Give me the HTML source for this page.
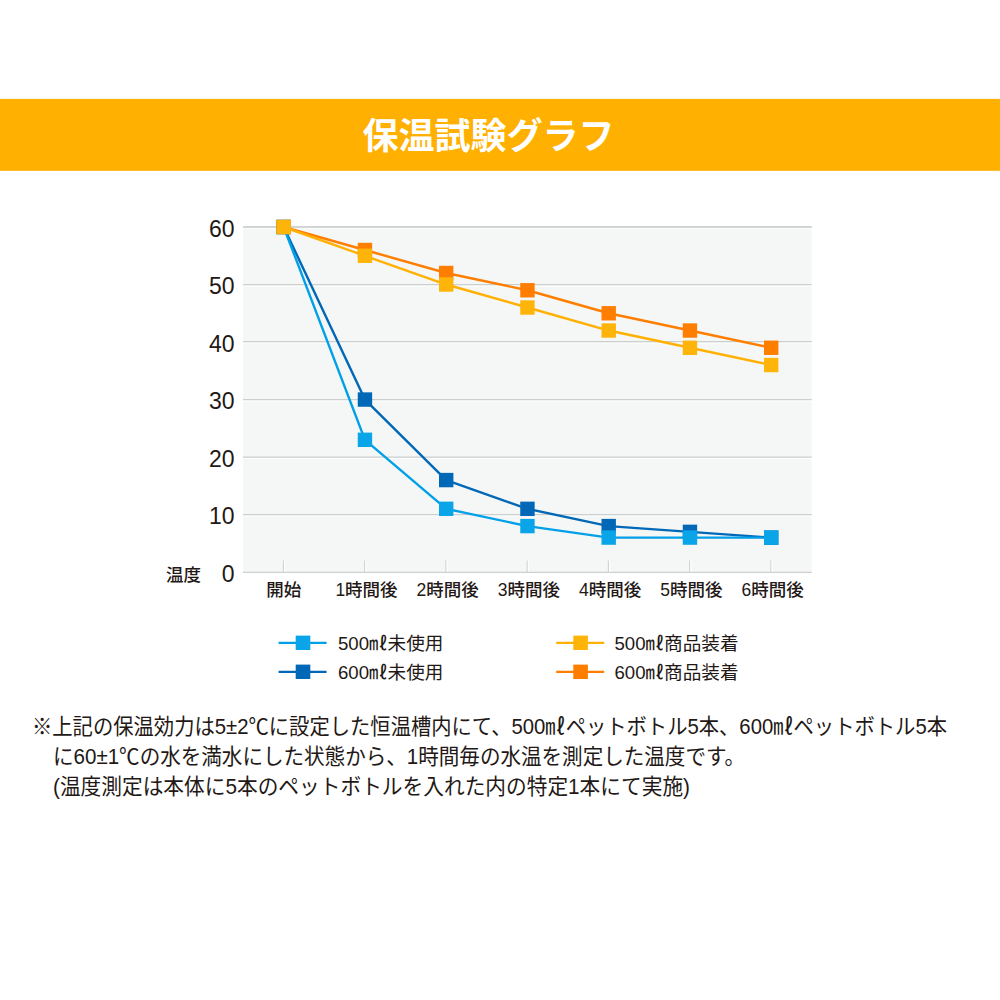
<!DOCTYPE html><html><head><meta charset="utf-8"><title>保温試験グラフ</title><style>html,body{margin:0;padding:0;background:#fff;width:1000px;height:1000px;overflow:hidden;font-family:"Liberation Sans","Noto Sans CJK JP",sans-serif}svg{display:block}</style></head><body><svg width="1000" height="1000" viewBox="0 0 1000 1000" font-family="'Liberation Sans', 'Noto Sans CJK JP', sans-serif"><rect x="0" y="98.9" width="1000" height="71.9" fill="#ffb000"/>
<rect x="243" y="227.0" width="568.7" height="345.4" fill="#f5f7f6"/>
<line x1="243" y1="572.40" x2="811.7" y2="572.40" stroke="#cdcfcf" stroke-width="1.25"/>
<line x1="243" y1="515.85" x2="811.7" y2="515.85" stroke="#ffffff" stroke-opacity="0.85" stroke-width="1.1"/>
<line x1="243" y1="514.50" x2="811.7" y2="514.50" stroke="#cdcfcf" stroke-width="1.25"/>
<line x1="243" y1="458.35" x2="811.7" y2="458.35" stroke="#ffffff" stroke-opacity="0.85" stroke-width="1.1"/>
<line x1="243" y1="457.00" x2="811.7" y2="457.00" stroke="#cdcfcf" stroke-width="1.25"/>
<line x1="243" y1="400.85" x2="811.7" y2="400.85" stroke="#ffffff" stroke-opacity="0.85" stroke-width="1.1"/>
<line x1="243" y1="399.50" x2="811.7" y2="399.50" stroke="#cdcfcf" stroke-width="1.25"/>
<line x1="243" y1="343.05" x2="811.7" y2="343.05" stroke="#ffffff" stroke-opacity="0.85" stroke-width="1.1"/>
<line x1="243" y1="341.70" x2="811.7" y2="341.70" stroke="#cdcfcf" stroke-width="1.25"/>
<line x1="243" y1="285.85" x2="811.7" y2="285.85" stroke="#ffffff" stroke-opacity="0.85" stroke-width="1.1"/>
<line x1="243" y1="284.50" x2="811.7" y2="284.50" stroke="#cdcfcf" stroke-width="1.25"/>
<line x1="243" y1="228.80" x2="811.7" y2="228.80" stroke="#ffffff" stroke-opacity="0.85" stroke-width="1.1"/>
<line x1="243" y1="227.10" x2="811.7" y2="227.10" stroke="#d3d4d4" stroke-width="2.0"/>
<line x1="283.40" y1="560.5" x2="283.40" y2="572.4" stroke="#d0d1d1" stroke-width="1.1"/>
<line x1="284.70" y1="560.5" x2="284.70" y2="571.8" stroke="#ffffff" stroke-opacity="0.8" stroke-width="1.1"/>
<line x1="364.65" y1="560.5" x2="364.65" y2="572.4" stroke="#d0d1d1" stroke-width="1.1"/>
<line x1="365.95" y1="560.5" x2="365.95" y2="571.8" stroke="#ffffff" stroke-opacity="0.8" stroke-width="1.1"/>
<line x1="445.90" y1="560.5" x2="445.90" y2="572.4" stroke="#d0d1d1" stroke-width="1.1"/>
<line x1="447.20" y1="560.5" x2="447.20" y2="571.8" stroke="#ffffff" stroke-opacity="0.8" stroke-width="1.1"/>
<line x1="527.15" y1="560.5" x2="527.15" y2="572.4" stroke="#d0d1d1" stroke-width="1.1"/>
<line x1="528.45" y1="560.5" x2="528.45" y2="571.8" stroke="#ffffff" stroke-opacity="0.8" stroke-width="1.1"/>
<line x1="608.40" y1="560.5" x2="608.40" y2="572.4" stroke="#d0d1d1" stroke-width="1.1"/>
<line x1="609.70" y1="560.5" x2="609.70" y2="571.8" stroke="#ffffff" stroke-opacity="0.8" stroke-width="1.1"/>
<line x1="689.65" y1="560.5" x2="689.65" y2="572.4" stroke="#d0d1d1" stroke-width="1.1"/>
<line x1="690.95" y1="560.5" x2="690.95" y2="571.8" stroke="#ffffff" stroke-opacity="0.8" stroke-width="1.1"/>
<line x1="770.90" y1="560.5" x2="770.90" y2="572.4" stroke="#d0d1d1" stroke-width="1.1"/>
<line x1="772.20" y1="560.5" x2="772.20" y2="571.8" stroke="#ffffff" stroke-opacity="0.8" stroke-width="1.1"/>
<polyline points="283.70,227.00 364.95,399.55 446.20,480.07 527.45,508.83 608.70,526.09 689.95,531.84 771.20,537.59" fill="none" stroke="#0068b7" stroke-width="2.4" stroke-linejoin="round"/>
<polyline points="283.70,227.00 364.95,439.81 446.20,508.83 527.45,526.09 608.70,537.59 689.95,537.59 771.20,537.59" fill="none" stroke="#00a0e9" stroke-width="2.4" stroke-linejoin="round"/>
<polyline points="283.70,227.00 364.95,250.01 446.20,273.01 527.45,290.27 608.70,313.27 689.95,330.53 771.20,347.78" fill="none" stroke="#ff7e00" stroke-width="2.4" stroke-linejoin="round"/>
<polyline points="283.70,227.00 364.95,255.76 446.20,284.52 527.45,307.52 608.70,330.53 689.95,347.78 771.20,365.04" fill="none" stroke="#ffb000" stroke-width="2.4" stroke-linejoin="round"/>
<rect x="276.50" y="219.80" width="14.4" height="14.4" fill="#0068b7"/>
<rect x="357.75" y="392.35" width="14.4" height="14.4" fill="#0068b7"/>
<rect x="439.00" y="472.87" width="14.4" height="14.4" fill="#0068b7"/>
<rect x="520.25" y="501.63" width="14.4" height="14.4" fill="#0068b7"/>
<rect x="601.50" y="518.89" width="14.4" height="14.4" fill="#0068b7"/>
<rect x="682.75" y="524.64" width="14.4" height="14.4" fill="#0068b7"/>
<rect x="764.00" y="530.39" width="14.4" height="14.4" fill="#0068b7"/>
<rect x="276.50" y="219.80" width="14.4" height="14.4" fill="#0aa5e8"/>
<rect x="357.75" y="432.61" width="14.4" height="14.4" fill="#0aa5e8"/>
<rect x="439.00" y="501.63" width="14.4" height="14.4" fill="#0aa5e8"/>
<rect x="520.25" y="518.89" width="14.4" height="14.4" fill="#0aa5e8"/>
<rect x="601.50" y="530.39" width="14.4" height="14.4" fill="#0aa5e8"/>
<rect x="682.75" y="530.39" width="14.4" height="14.4" fill="#0aa5e8"/>
<rect x="764.00" y="530.39" width="14.4" height="14.4" fill="#0aa5e8"/>
<rect x="276.50" y="219.80" width="14.4" height="14.4" fill="#ff7e00"/>
<rect x="357.75" y="242.81" width="14.4" height="14.4" fill="#ff7e00"/>
<rect x="439.00" y="265.81" width="14.4" height="14.4" fill="#ff7e00"/>
<rect x="520.25" y="283.07" width="14.4" height="14.4" fill="#ff7e00"/>
<rect x="601.50" y="306.07" width="14.4" height="14.4" fill="#ff7e00"/>
<rect x="682.75" y="323.33" width="14.4" height="14.4" fill="#ff7e00"/>
<rect x="764.00" y="340.58" width="14.4" height="14.4" fill="#ff7e00"/>
<rect x="276.50" y="219.80" width="14.4" height="14.4" fill="#ffb409"/>
<rect x="357.75" y="248.56" width="14.4" height="14.4" fill="#ffb409"/>
<rect x="439.00" y="277.32" width="14.4" height="14.4" fill="#ffb409"/>
<rect x="520.25" y="300.32" width="14.4" height="14.4" fill="#ffb409"/>
<rect x="601.50" y="323.33" width="14.4" height="14.4" fill="#ffb409"/>
<rect x="682.75" y="340.58" width="14.4" height="14.4" fill="#ffb409"/>
<rect x="764.00" y="357.84" width="14.4" height="14.4" fill="#ffb409"/>
<line x1="278.6" y1="642.8" x2="326.6" y2="642.8" stroke="#00a0e9" stroke-width="2.2"/>
<rect x="295.70000000000005" y="635.5999999999999" width="14.6" height="14.4" fill="#0aa5e8"/>
<line x1="278.6" y1="671.8" x2="326.6" y2="671.8" stroke="#0068b7" stroke-width="2.2"/>
<rect x="295.70000000000005" y="664.5999999999999" width="14.6" height="14.4" fill="#0068b7"/>
<line x1="556.2" y1="642.8" x2="604.2" y2="642.8" stroke="#ffb000" stroke-width="2.2"/>
<rect x="573.3000000000001" y="635.5999999999999" width="14.6" height="14.4" fill="#ffb409"/>
<line x1="556.2" y1="671.8" x2="604.2" y2="671.8" stroke="#ff7e00" stroke-width="2.2"/>
<rect x="573.3000000000001" y="664.5999999999999" width="14.6" height="14.4" fill="#ff7e00"/>
<text x="488.5" y="149" font-size="36" font-weight="bold" text-anchor="middle" fill="#fff">保温試験グラフ</text>
<text x="234.5" y="582.3" font-size="23" text-anchor="end" fill="#231815">0</text>
<text x="234.5" y="524.4" font-size="23" text-anchor="end" fill="#231815">10</text>
<text x="234.5" y="466.9" font-size="23" text-anchor="end" fill="#231815">20</text>
<text x="234.5" y="409.4" font-size="23" text-anchor="end" fill="#231815">30</text>
<text x="234.5" y="351.6" font-size="23" text-anchor="end" fill="#231815">40</text>
<text x="234.5" y="294.4" font-size="23" text-anchor="end" fill="#231815">50</text>
<text x="234.5" y="237.0" font-size="23" text-anchor="end" fill="#231815">60</text>
<text x="166" y="581" font-size="17.5" font-weight="500" text-anchor="start" fill="#231815">温度</text>
<text x="283.7" y="596" font-size="17.5" font-weight="500" text-anchor="middle" fill="#231815">開始</text>
<text x="366.5" y="596" font-size="17.5" font-weight="500" text-anchor="middle" fill="#231815">1時間後</text>
<text x="447.7" y="596" font-size="17.5" font-weight="500" text-anchor="middle" fill="#231815">2時間後</text>
<text x="528.9" y="596" font-size="17.5" font-weight="500" text-anchor="middle" fill="#231815">3時間後</text>
<text x="610.1" y="596" font-size="17.5" font-weight="500" text-anchor="middle" fill="#231815">4時間後</text>
<text x="691.4" y="596" font-size="17.5" font-weight="500" text-anchor="middle" fill="#231815">5時間後</text>
<text x="772.6" y="596" font-size="17.5" font-weight="500" text-anchor="middle" fill="#231815">6時間後</text>
<text x="338" y="650" font-size="18.6" text-anchor="start" fill="#231815">500㎖未使用</text>
<text x="338" y="679" font-size="18.6" text-anchor="start" fill="#231815">600㎖未使用</text>
<text x="614.5" y="650" font-size="18.6" text-anchor="start" fill="#231815">500㎖商品装着</text>
<text x="614.5" y="679" font-size="18.6" text-anchor="start" fill="#231815">600㎖商品装着</text>
<text x="32" y="734" font-size="21.6" text-anchor="start" fill="#231815" textLength="915" lengthAdjust="spacingAndGlyphs">※上記の保温効力は5±2℃に設定した恒温槽内にて、500㎖ペットボトル5本、600㎖ペットボトル5本</text>
<text x="53" y="764.4" font-size="21.6" text-anchor="start" fill="#231815" textLength="692" lengthAdjust="spacingAndGlyphs">に60±1℃の水を満水にした状態から、1時間毎の水温を測定した温度です。</text>
<text x="53" y="794" font-size="21.6" text-anchor="start" fill="#231815" textLength="637" lengthAdjust="spacingAndGlyphs">(温度測定は本体に5本のペットボトルを入れた内の特定1本にて実施)</text></svg></body></html>
